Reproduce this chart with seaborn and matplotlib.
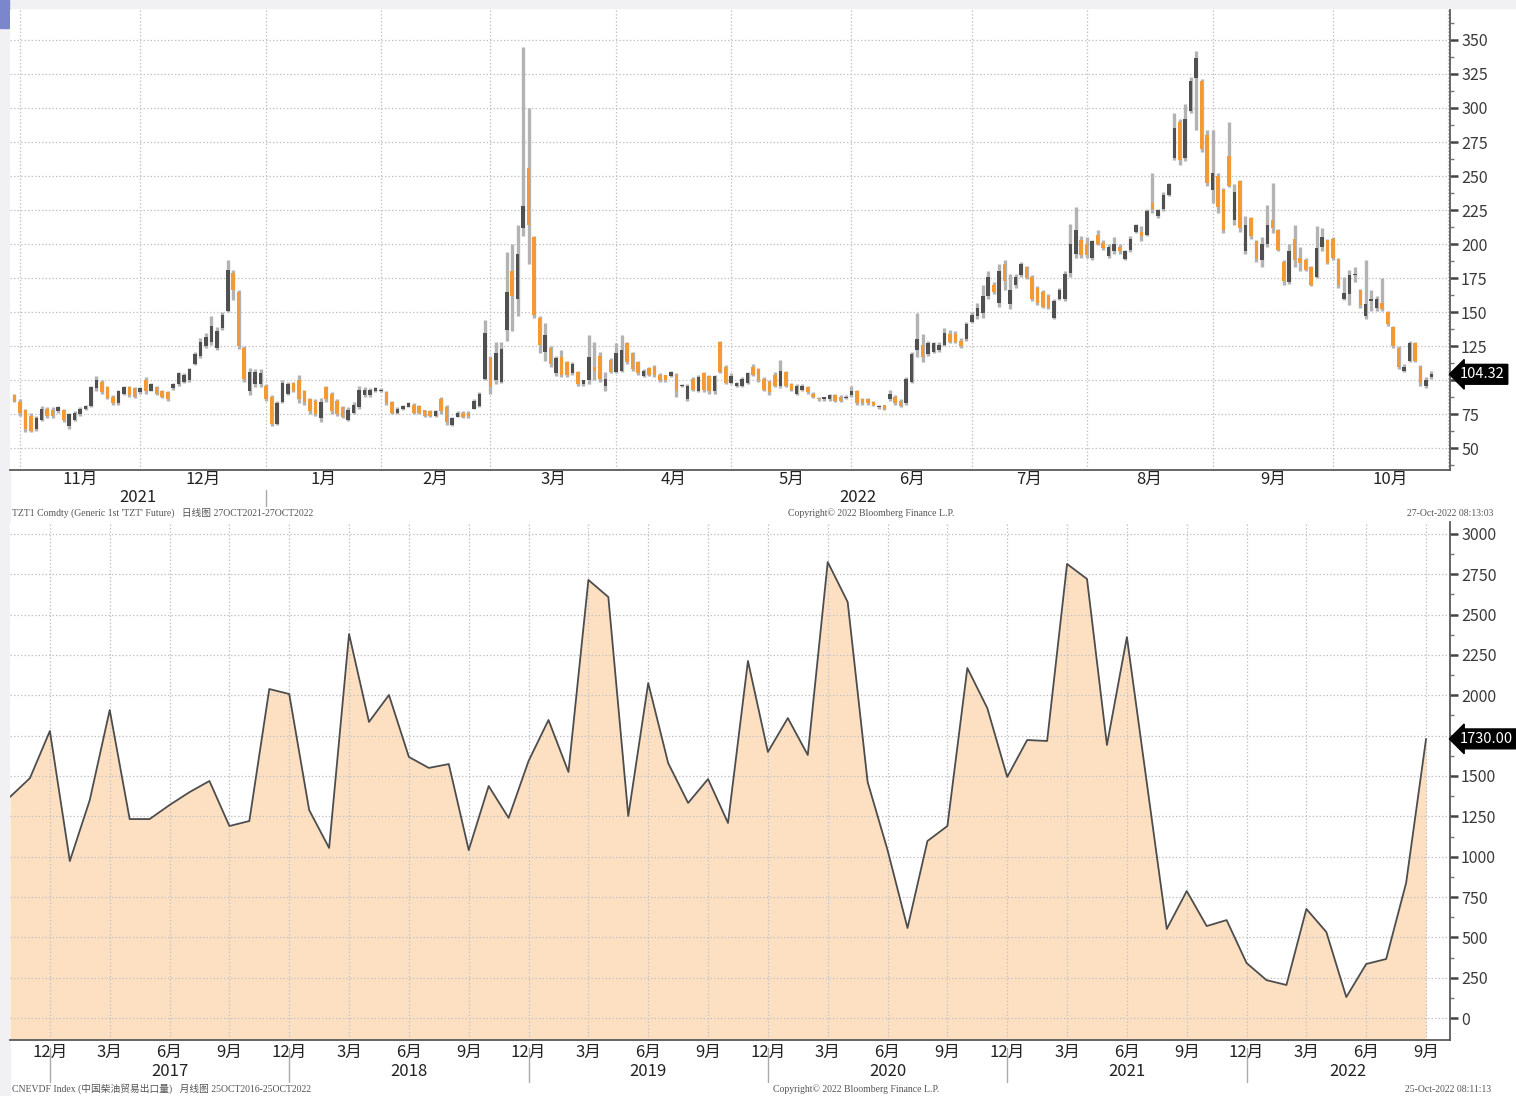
import numpy as np
import pandas as pd
import seaborn as sns
import matplotlib.pyplot as plt
import matplotlib.transforms as mtransforms
from matplotlib.patches import Rectangle

sns.set_theme(style="white")
plt.rcParams["font.family"] = ["Noto Sans CJK SC", "DejaVu Sans"]

# ---- top panel: TZT1 daily candles, 29 Oct 2021 - 27 Oct 2022 ----
opens = [
    89, 84, 78, 74, 64, 71, 79, 78, 77, 78, 66, 71, 75, 79, 81, 94, 99, 95, 88, 83,
    90, 95, 94, 91, 100, 92, 95, 92, 91, 94, 97, 99, 100, 112, 118, 125, 128, 124, 138, 151,
    179, 165, 124, 92, 97, 97, 96, 88, 68, 84, 90, 98, 100, 92, 86, 85, 72, 95, 90, 85,
    80, 71, 76, 80, 89, 89, 92, 92, 91, 84, 76, 79, 80, 82, 81, 78, 77, 74, 86, 80,
    67, 73, 76, 76, 79, 81,
    101, 116, 100, 99, 137, 180, 160, 212, 256, 205, 146, 121, 124, 105, 117, 113, 105, 106, 97, 100,
    110, 118, 96, 115, 106, 107, 127, 120, 113, 103, 109, 110, 104, 104, 103, 104, 96, 86, 101, 92,
    105, 103, 92, 128, 110, 98, 96, 96, 98, 110, 108, 101, 99, 104, 96, 106, 97, 90, 93, 95,
    90, 87, 86, 86, 89, 88, 87, 89, 92, 86, 86, 84, 80, 82, 86, 88, 85, 83, 99, 122,
    126, 119, 121, 122, 126, 134, 134, 129,
    130, 143, 147, 149, 162, 170, 157, 185, 156, 170, 177, 183, 176, 168, 165, 162, 146, 160, 160, 179,
    193, 203, 200, 190, 207, 201, 191, 195, 198, 189, 196, 209, 209, 207, 230, 221, 226, 236, 263, 290,
    263, 298, 322, 320, 280, 240, 250, 240, 265, 218, 246, 195, 219, 202, 188, 200, 218, 210, 187, 172,
    204, 190, 188, 183, 176, 198, 203, 204, 189, 160, 163, 177, 166, 147, 158, 153, 157, 150, 139, 124,
    107, 114, 127, 110, 96, 102,
]
highs = [
    90, 86, 79, 76, 74, 81, 80, 80, 81, 79, 76, 77, 80, 82, 96, 103, 100, 96, 89, 93,
    96, 96, 95, 95, 102, 98, 96, 93, 92, 98, 106, 105, 109, 121, 131, 135, 147, 139, 150, 188,
    181, 166, 125, 109, 108, 108, 97, 89, 85, 100, 99, 99, 104, 93, 87, 86, 87, 96, 91, 86,
    81, 80, 84, 96, 95, 94, 95, 94, 92, 85, 80, 82, 84, 83, 82, 78, 78, 78, 88, 82,
    73, 77, 77, 77, 86, 91,
    144, 118, 128, 128, 194, 200, 214, 345, 300, 206, 147, 142, 125, 118, 122, 114, 113, 107, 100, 133,
    128, 121, 106, 116, 127, 133, 128, 121, 114, 108, 110, 111, 105, 104, 107, 105, 97, 97, 102, 104,
    106, 104, 104, 129, 111, 105, 99, 102, 106, 112, 109, 102, 100, 106, 115, 107, 98, 97, 97, 96,
    91, 88, 88, 90, 90, 89, 89, 96, 93, 87, 87, 85, 82, 82, 93, 89, 86, 102, 121, 149,
    134, 129, 128, 128, 138, 137, 136, 131,
    143, 150, 157, 170, 180, 172, 185, 188, 178, 178, 187, 184, 177, 169, 166, 163, 160, 168, 180, 215,
    227, 206, 205, 203, 210, 203, 200, 205, 200, 196, 206, 215, 213, 226, 252, 226, 238, 245, 296, 292,
    303, 323, 342, 321, 284, 284, 252, 241, 290, 244, 247, 221, 220, 203, 205, 229, 245, 211, 188, 200,
    214, 198, 190, 184, 213, 212, 204, 205, 190, 176, 181, 183, 167, 188, 166, 162, 175, 151, 140, 125,
    112, 129, 128, 111, 102, 107,
]
lows = [
    84, 74, 62, 62, 63, 70, 72, 72, 76, 69, 64, 70, 74, 78, 80, 92, 90, 86, 82, 82,
    89, 88, 87, 90, 90, 92, 89, 87, 85, 93, 96, 98, 99, 111, 116, 124, 126, 122, 137, 150,
    159, 123, 99, 89, 95, 95, 85, 66, 67, 83, 89, 91, 83, 82, 75, 74, 69, 84, 75, 74,
    72, 70, 75, 79, 88, 88, 91, 91, 82, 75, 75, 78, 80, 75, 75, 73, 73, 73, 75, 67,
    66, 73, 72, 72, 79, 80,
    100, 90, 97, 98, 129, 136, 147, 206, 185, 146, 120, 114, 110, 103, 102, 102, 104, 96, 96, 97,
    100, 99, 92, 105, 105, 106, 112, 107, 104, 102, 103, 102, 99, 99, 102, 88, 95, 85, 92, 91,
    91, 90, 90, 105, 97, 97, 95, 95, 97, 103, 99, 92, 89, 95, 94, 95, 92, 89, 92, 90,
    87, 85, 85, 85, 84, 84, 86, 88, 82, 82, 82, 81, 79, 78, 85, 82, 80, 82, 98, 117,
    113, 118, 120, 121, 125, 127, 127, 124,
    129, 142, 145, 146, 160, 163, 154, 166, 152, 168, 176, 174, 158, 155, 153, 152, 145, 159, 158, 176,
    190, 190, 190, 188, 199, 196, 190, 193, 193, 188, 194, 208, 202, 206, 223, 219, 224, 235, 262, 258,
    261, 296, 284, 268, 243, 230, 223, 208, 242, 214, 209, 193, 204, 187, 183, 198, 208, 195, 170, 171,
    183, 180, 180, 169, 175, 195, 185, 188, 168, 159, 155, 172, 153, 145, 151, 151, 151, 140, 124, 108,
    106, 113, 113, 96, 94, 101,
]
closes = [
    85, 76, 64, 63, 72, 79, 74, 74, 80, 71, 75, 76, 79, 81, 95, 100, 91, 87, 83, 92,
    95, 89, 88, 94, 92, 97, 90, 88, 86, 97, 105, 104, 108, 119, 128, 132, 140, 136, 148, 181,
    166, 125, 101, 106, 106, 105, 86, 68, 83, 98, 97, 92, 86, 84, 77, 75, 84, 86, 77, 75,
    73, 78, 82, 93, 93, 93, 94, 93, 83, 76, 79, 81, 83, 76, 76, 74, 74, 77, 77, 69,
    72, 76, 73, 74, 85, 90,
    135, 95, 120, 123, 165, 162, 193, 228, 214, 148, 126, 133, 112, 116, 104, 104, 112, 97, 100, 117,
    107, 101, 101, 106, 120, 122, 113, 108, 105, 107, 104, 104, 100, 100, 106, 92, 96, 96, 93, 102,
    93, 92, 103, 106, 98, 103, 98, 101, 105, 104, 100, 93, 91, 96, 107, 96, 93, 96, 96, 91,
    88, 86, 88, 89, 85, 85, 88, 92, 83, 83, 83, 82, 81, 79, 90, 83, 81, 101, 119, 130,
    117, 127, 127, 126, 135, 128, 128, 125,
    141, 148, 153, 162, 176, 165, 180, 173, 166, 176, 185, 175, 160, 157, 154, 153, 158, 166, 178, 200,
    210, 192, 192, 202, 200, 197, 198, 200, 195, 195, 204, 214, 206, 224, 226, 225, 236, 244, 285, 262,
    292, 320, 337, 270, 245, 252, 227, 210, 243, 238, 212, 214, 206, 189, 200, 214, 212, 196, 173, 195,
    188, 186, 181, 170, 197, 205, 186, 190, 170, 164, 177, 178, 155, 156, 160, 160, 152, 141, 125, 110,
    110, 127, 114, 98, 100, 104.32,
]
top_yticks = list(range(50, 351, 25))

# ---- bottom panel: CNEVDF monthly, Oct 2016 - Sep 2022 ----
monthly_values = [
    1370, 1487, 1779, 973, 1351, 1909, 1233, 1233, 1320, 1400, 1469, 1190,
    1221, 2039, 2008, 1289, 1054, 2380, 1835, 2002, 1618, 1550, 1574, 1041,
    1438, 1240, 1593, 1847, 1525, 2715, 2609, 1252, 2076, 1580, 1333, 1481,
    1209, 2213, 1649, 1859, 1630, 2826, 2578, 1463, 1041, 558, 1097, 1190,
    2169, 1921, 1494, 1723, 1717, 2814, 2721, 1692, 2361, 1456, 552, 787,
    570, 607, 341, 235, 205, 676, 533, 130, 335, 366, 837, 1730,
]
bottom_yticks = list(range(0, 3001, 250))

W, H = 1516, 1096
fig = plt.figure(figsize=(W / 100, H / 100), dpi=100, facecolor="white")
fig.patches.append(Rectangle((0, 0), 10 / W, 1, transform=fig.transFigure, color="#f1f1f3", zorder=-5))
fig.patches.append(Rectangle((0, 1 - 8 / H), 1, 8 / H, transform=fig.transFigure, color="#f1f1f3", zorder=-5))
fig.patches.append(Rectangle((0, 1 - 28 / H), 9 / W, 28 / H, transform=fig.transFigure, color="#7c86cc", zorder=-4))

ax1 = fig.add_axes([10 / W, 1 - 470 / H, 1440 / W, 460 / H])
ax2 = fig.add_axes([10 / W, 1 - 1040 / H, 1440 / W, 518 / H])

grid_kw = dict(color="#c4c4c4", lw=0.9, linestyle=(0, (1.2, 1.6)))
axis_col = "#5a5a5a"
lab_col = "#3a3a3a"

for ax in (ax1, ax2):
    ax.set_facecolor("white")
    for s in ("left", "top"):
        ax.spines[s].set_visible(False)
    for s in ("right", "bottom"):
        ax.spines[s].set_color(axis_col)
        ax.spines[s].set_linewidth(1.3)
    ax.yaxis.tick_right()
    ax.tick_params(axis="y", which="major", direction="out", length=6, width=1.8,
                   color="#444444", labelsize=11.5, labelcolor=lab_col, pad=2)
    ax.tick_params(axis="y", which="minor", direction="out", length=3, width=1,
                   color="#777777", right=True)

# ---- top candles ----
daily_dates = pd.bdate_range("2021-10-29", "2022-10-27")
df = pd.DataFrame({"date": daily_dates, "open": opens, "high": highs,
                   "low": lows, "close": closes})
df["pos"] = np.arange(len(df)) - 1
up = df["close"] >= df["open"]
body_low = df[["open", "close"]].min(axis=1)
body_h = (df["close"] - df["open"]).abs().clip(lower=0.8)

ax1.vlines(df["pos"], df["low"], df["high"], color="#b3b3b3", lw=2.4, zorder=2)
ax1.bar(df["pos"], body_h, bottom=body_low, width=0.64,
        color=np.where(up, "#505050", "#f39a35"), zorder=3, linewidth=0)

cal = pd.bdate_range("2021-10-29", "2022-11-30")
cal_pos = pd.Series(np.arange(len(cal)) - 1, index=cal)
firsts = cal_pos.groupby([cal.year, cal.month]).first()
starts = firsts.values[1:]          # Nov 2021 ... Nov 2022
month_ids = [m for (_, m) in firsts.index[1:]]
centers = [(a + b) / 2 for a, b in zip(starts[:-1], starts[1:])]
month_labels = [f"{m}月" for m in month_ids[:-1]]

ax1.set_xlim(-1.8, 261.4)
ax1.set_ylim(34, 372)
ax1.set_yticks(top_yticks)
# the last-value tag sits on top of the 100 label, as in the original
ax1.set_yticklabels(["" if abs(t - closes[-1]) < 10 else str(t) for t in top_yticks])
ax1.set_yticks(np.arange(37.5, 372, 12.5), minor=True)
ax1.set_xticks(starts)
ax1.set_xticklabels([])
ax1.tick_params(axis="x", which="major", direction="inout", length=5, width=1, color="#888888")
ax1.set_xticks(centers, minor=True)
ax1.set_xticklabels(month_labels, minor=True)
ax1.tick_params(axis="x", which="minor", length=0, labelsize=12, labelcolor="#222222", pad=1)
for y in top_yticks:
    ax1.axhline(y, zorder=0, **grid_kw)
for x in starts:
    ax1.axvline(x, zorder=0, **grid_kw)

tr1 = mtransforms.blended_transform_factory(ax1.transData, ax1.transAxes)
jan = firsts[(2022, 1)]
ax1.plot([jan, jan], [-0.043, -0.078], transform=tr1, color="#aaaaaa", lw=1, clip_on=False)
ax1.text((-1.8 + jan) / 2, -0.059, "2021", transform=tr1, ha="center", va="center",
         fontsize=12, color="#222222")
ax1.text((jan + 261.4) / 2, -0.059, "2022", transform=tr1, ha="center", va="center",
         fontsize=12, color="#222222")

trv1 = mtransforms.blended_transform_factory(ax1.transAxes, ax1.transData)
ax1.text(1.007, closes[-1], f"{closes[-1]:.2f}", transform=trv1, ha="left", va="center",
         fontsize=10.5, color="white", clip_on=False, zorder=10,
         bbox=dict(boxstyle="larrow,pad=0.2", fc="black", ec="black"))

# ---- bottom area ----
months = pd.date_range("2016-10-31", periods=len(monthly_values), freq="ME")
mdf = pd.DataFrame({"month": months, "value": monthly_values})
mdf["pos"] = np.arange(len(mdf)) - 2
y_low = -136

ax2.fill_between(mdf["pos"], mdf["value"], y_low, color="#fde0c2", zorder=1, linewidth=0)
sns.lineplot(data=mdf, x="pos", y="value", ax=ax2, color="#4d4d4d", lw=1.3, zorder=3)

ax2.set_xlim(-2, 70.2)
ax2.set_ylim(y_low, 3074)
ax2.set_yticks(bottom_yticks)
ax2.set_yticklabels(["" if abs(t - monthly_values[-1]) < 100 else str(t) for t in bottom_yticks])
ax2.set_yticks(np.arange(125, 3074, 250), minor=True)
ax2.set_xlabel("")
ax2.set_ylabel("")

q = mdf[mdf["month"].dt.month.isin([3, 6, 9, 12])]
ax2.set_xticks(q["pos"])
ax2.set_xticklabels([f"{m}月" for m in q["month"].dt.month])
ax2.tick_params(axis="x", which="major", direction="out", length=0, labelsize=12,
                labelcolor="#222222", pad=3)
ax2.set_xticks(mdf["pos"], minor=True)
ax2.tick_params(axis="x", which="minor", direction="out", length=3, width=1, color="#888888")
for y in bottom_yticks:
    ax2.axhline(y, zorder=2, **grid_kw)
for x in q["pos"]:
    ax2.axvline(x, zorder=2, **grid_kw)

tr2 = mtransforms.blended_transform_factory(ax2.transData, ax2.transAxes)
decs = mdf.loc[mdf["month"].dt.month == 12, "pos"].tolist()
for d in decs:
    ax2.plot([d, d], [-0.016, -0.081], transform=tr2, color="#aaaaaa", lw=1, clip_on=False)
year_edges = decs + [70.2]
for yr, a, b in zip(range(2017, 2023), year_edges[:-1], year_edges[1:]):
    ax2.text((a + b) / 2, -0.06, str(yr), transform=tr2, ha="center", va="center",
             fontsize=12, color="#222222")

trv2 = mtransforms.blended_transform_factory(ax2.transAxes, ax2.transData)
ax2.text(1.007, monthly_values[-1], f"{monthly_values[-1]:.2f}", transform=trv2, ha="left",
         va="center", fontsize=10.5, color="white", clip_on=False, zorder=10,
         bbox=dict(boxstyle="larrow,pad=0.2", fc="black", ec="black"))

# ---- footers ----
foot = dict(fontsize=7, color="#555555", family=["Liberation Serif", "Noto Sans CJK SC"], va="center")
fig.text(12 / W, 1 - 513 / H, "TZT1 Comdty (Generic 1st 'TZT' Future)   日线图 27OCT2021-27OCT2022", **foot)
fig.text(788 / W, 1 - 513 / H, "Copyright© 2022 Bloomberg Finance L.P.", **foot)
fig.text(1407 / W, 1 - 513 / H, "27-Oct-2022 08:13:03", **foot)
fig.text(12 / W, 1 - 1089 / H, "CNEVDF Index (中国柴油贸易出口量)   月线图 25OCT2016-25OCT2022", **foot)
fig.text(773 / W, 1 - 1089 / H, "Copyright© 2022 Bloomberg Finance L.P.", **foot)
fig.text(1405 / W, 1 - 1089 / H, "25-Oct-2022 08:11:13", **foot)

fig.savefig("out.png", dpi=100, facecolor=fig.get_facecolor())
